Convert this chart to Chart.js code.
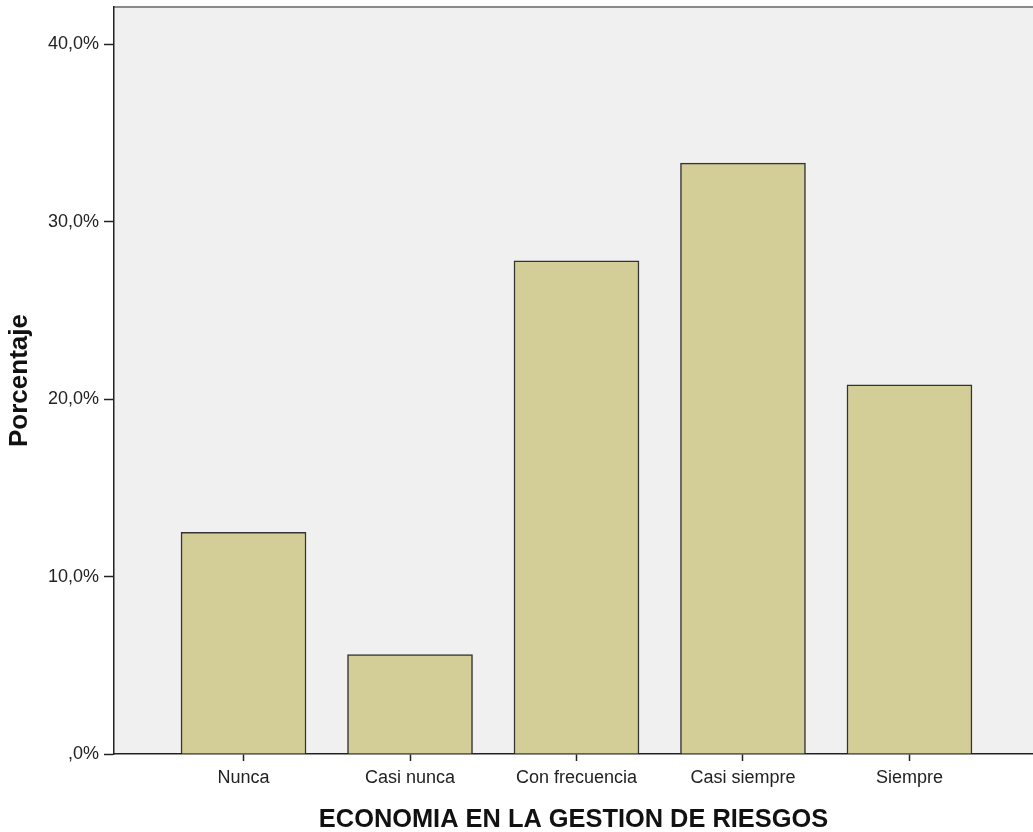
<!DOCTYPE html>
<html>
<head>
<meta charset="utf-8">
<script src="https://cdn.jsdelivr.net/npm/chart.js@4/dist/chart.umd.min.js"></script>
<style>
  html, body { margin: 0; padding: 0; background: #fff; }
  #wrap { width: 1033px; height: 832px; }
</style>
</head>
<body>
<div id="wrap"><canvas id="chart" width="1033" height="832"></canvas></div>
<script>
const categories = ['Nunca', 'Casi nunca', 'Con frecuencia', 'Casi siempre', 'Siempre'];
const percentages = [12.5, 5.6, 27.8, 33.3, 20.8];
const yTicks = [0, 10, 20, 30, 40];

const fontFamily = 'Liberation Sans, Arial, sans-serif';

// plot background + grey top border, like the SPSS frame
const plotFrame = {
  id: 'plotFrame',
  beforeDraw(chart) {
    const { ctx, chartArea } = chart;
    ctx.save();
    ctx.fillStyle = '#f0f0f0';
    ctx.fillRect(chartArea.left, chartArea.top, chartArea.right - chartArea.left, chartArea.bottom - chartArea.top);
    ctx.strokeStyle = '#8a8a8a';
    ctx.lineWidth = 2;
    ctx.beginPath();
    ctx.moveTo(chartArea.left, chartArea.top);
    ctx.lineTo(chartArea.right, chartArea.top);
    ctx.stroke();
    ctx.restore();
  }
};

const formatPct = (v) => {
  const s = v.toFixed(1).replace('.', ',');
  return (s.startsWith('0') ? s.slice(1) : s) + '%';
};

new Chart(document.getElementById('chart'), {
  type: 'bar',
  data: {
    datasets: [{
      data: percentages.map((v, i) => ({ x: i, y: v })),
      backgroundColor: '#d3ce97',
      borderColor: '#333333',
      borderWidth: 1.5,
      barThickness: 125
    }]
  },
  options: {
    responsive: false,
    animation: false,
    layout: { padding: { top: 7, right: 0, left: 0, bottom: 0 } },
    plugins: { legend: { display: false }, tooltip: { enabled: false } },
    scales: {
      x: {
        type: 'linear',
        offset: false,
        min: -0.778,
        max: 4.742,
        afterBuildTicks: (scale) => { scale.ticks = categories.map((c, i) => ({ value: i })); },
        afterFit: (scale) => {
          scale.height = 78;
          scale.paddingLeft = 0;
          scale.paddingRight = 0;
        },
        grid: { offset: false, drawOnChartArea: false, tickLength: 7, color: '#222', tickWidth: 1.5 },
        border: { color: '#222', width: 1.5 },
        ticks: {
          padding: 6,
          maxRotation: 0,
          autoSkip: false,
          color: '#222',
          font: { family: fontFamily, size: 18 },
          callback: (v) => categories[v]
        },
        title: {
          display: true,
          text: 'ECONOMIA EN LA GESTION DE RIESGOS',
          color: '#111',
          font: { family: fontFamily, size: 25.4, weight: 'bold' },
          padding: { top: 0, bottom: -3 }
        }
      },
      y: {
        min: 0,
        max: 42.1,
        afterBuildTicks: (scale) => { scale.ticks = yTicks.map(v => ({ value: v })); },
        afterFit: (scale) => {
          scale.width = 114;
          scale.paddingTop = 0;
          scale.paddingBottom = 0;
        },
        grid: { drawOnChartArea: false, tickLength: 10, color: '#222', tickWidth: 1.5 },
        border: { color: '#222', width: 1.5 },
        ticks: {
          padding: 5,
          color: '#222',
          font: { family: fontFamily, size: 18 },
          callback: (v) => formatPct(v)
        },
        title: {
          display: true,
          text: 'Porcentaje',
          color: '#111',
          font: { family: fontFamily, size: 26, weight: 'bold' },
          padding: { top: 4, bottom: 0 }
        }
      }
    }
  },
  plugins: [plotFrame]
});
</script>
</body>
</html>
